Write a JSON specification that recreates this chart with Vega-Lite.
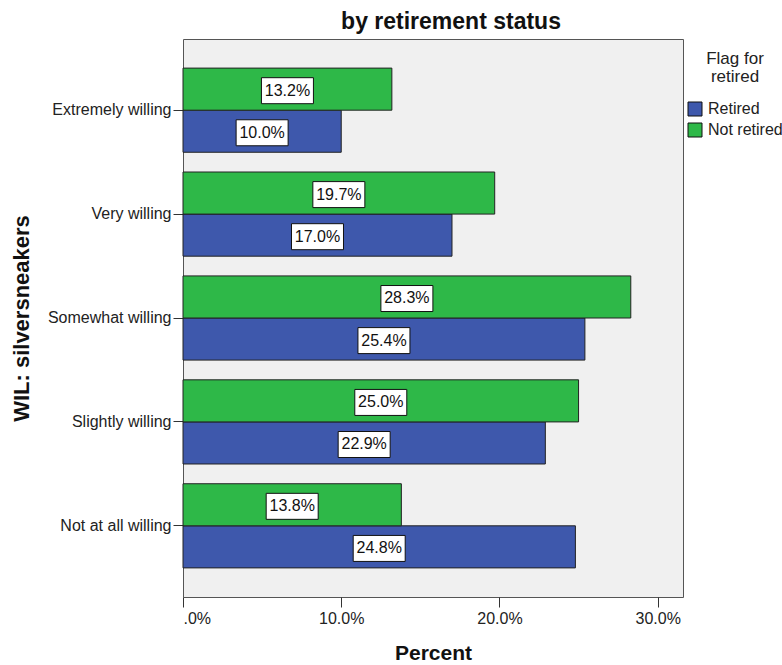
{
  "$schema": "https://vega.github.io/schema/vega-lite/v6.json",
  "width": 500,
  "height": 558,
  "autosize": {"type": "none"},
  "padding": {"left": 183, "top": 39, "right": 99, "bottom": 68},
  "background": "white",
  "config": {
    "font": "Liberation Sans",
    "view": {"fill": "#f0f0f0", "stroke": "#555555", "strokeWidth": 1},
    "axis": {
      "grid": false,
      "domain": false,
      "labelFont": "Liberation Sans",
      "labelFontSize": 16,
      "labelColor": "#222222",
      "tickColor": "#333333",
      "tickSize": 10,
      "titleFont": "Liberation Sans",
      "titleFontSize": 21,
      "titleFontWeight": "bold",
      "titleColor": "#111111"
    }
  },
  "title": {
    "text": "by retirement status",
    "font": "Liberation Sans",
    "fontSize": 23,
    "fontWeight": "bold",
    "color": "#111111",
    "anchor": "middle",
    "frame": "group",
    "dx": 18,
    "dy": 24,
    "baseline": "alphabetic",
    "offset": 11
  },
  "data": {
    "values": [
      {"willingness": "Extremely willing", "status": "Retired", "pct": 0.100},
      {"willingness": "Extremely willing", "status": "Not retired", "pct": 0.132},
      {"willingness": "Very willing", "status": "Retired", "pct": 0.170},
      {"willingness": "Very willing", "status": "Not retired", "pct": 0.197},
      {"willingness": "Somewhat willing", "status": "Retired", "pct": 0.254},
      {"willingness": "Somewhat willing", "status": "Not retired", "pct": 0.283},
      {"willingness": "Slightly willing", "status": "Retired", "pct": 0.229},
      {"willingness": "Slightly willing", "status": "Not retired", "pct": 0.250},
      {"willingness": "Not at all willing", "status": "Retired", "pct": 0.248},
      {"willingness": "Not at all willing", "status": "Not retired", "pct": 0.138}
    ]
  },
  "encoding": {
    "y": {
      "field": "willingness",
      "type": "nominal",
      "sort": ["Extremely willing", "Very willing", "Somewhat willing", "Slightly willing", "Not at all willing"],
      "scale": {"paddingInner": 0.19, "paddingOuter": 0.28},
      "axis": {
        "title": "WIL: silversneakers",
        "titleFontSize": 22,
        "labelPadding": 2,
        "titlePadding": 14
      }
    },
    "yOffset": {
      "field": "status",
      "type": "nominal",
      "sort": ["Not retired", "Retired"],
      "scale": {"paddingInner": 0, "paddingOuter": 0}
    }
  },
  "layer": [
    {
      "mark": {"type": "bar", "stroke": "#222222", "strokeWidth": 1},
      "encoding": {
        "x": {
          "field": "pct",
          "type": "quantitative",
          "scale": {"domain": [0, 0.316], "nice": false, "zero": true},
          "axis": {
            "title": "Percent",
            "values": [0, 0.1, 0.2, 0.3],
            "labelExpr": "datum.value === 0 ? '.0%' : format(datum.value, '.1%')",
            "labelPadding": 3,
            "titlePadding": 16
          }
        },
        "color": {
          "field": "status",
          "type": "nominal",
          "scale": {"domain": ["Retired", "Not retired"], "range": ["#3e58ac", "#2eb848"]},
          "legend": {
            "orient": "none",
            "legendX": 504,
            "legendY": 12,
            "padding": 0,
            "title": ["Flag for", "retired"],
            "titleFont": "Liberation Sans",
            "titleFontSize": 17,
            "titleFontWeight": "normal",
            "titleColor": "#222222",
            "titleAlign": "center",
            "titleAnchor": "middle",
            "titleLineHeight": 18,
            "titlePadding": 15,
            "titleLimit": 200,
            "labelFont": "Liberation Sans",
            "labelFontSize": 16,
            "labelColor": "#222222",
            "labelOffset": 5,
            "rowPadding": 3,
            "symbolType": "square",
            "symbolSize": 196,
            "symbolStrokeColor": "#111111",
            "symbolStrokeWidth": 1,
            "symbolOpacity": 1
          }
        }
      }
    },
    {
      "encoding": {
        "x": {
          "field": "pct",
          "type": "quantitative",
          "scale": {"domain": [0, 0.632], "nice": false, "zero": true},
          "axis": null
        }
      },
      "layer": [
        {
          "mark": {
            "type": "point",
            "shape": "M-1,-0.44L1,-0.44L1,0.56L-1,0.56Z",
            "size": 2704,
            "filled": true,
            "fill": "white",
            "stroke": "#111111",
            "strokeWidth": 1,
            "opacity": 1
          }
        },
        {
          "mark": {
            "type": "text",
            "font": "Liberation Sans",
            "fontSize": 16,
            "color": "#111111",
            "align": "center",
            "baseline": "middle",
            "dy": 1.5
          },
          "encoding": {
            "text": {"field": "pct", "type": "quantitative", "format": ".1%"}
          }
        }
      ]
    }
  ],
  "resolve": {"scale": {"x": "independent"}}
}
